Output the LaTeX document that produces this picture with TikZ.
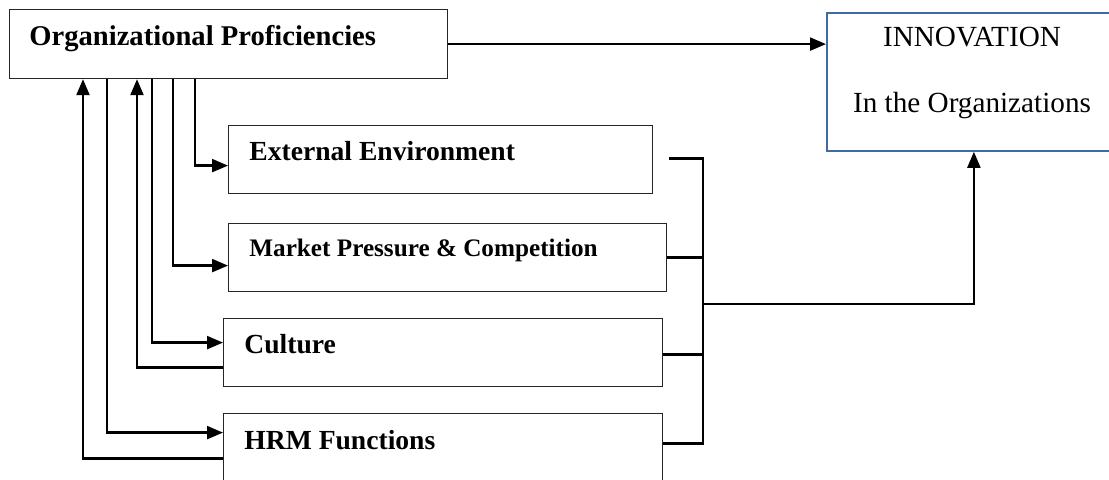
\documentclass[tikz,border=0pt]{standalone}
\usepackage{fontspec}
\setmainfont{Liberation Serif}
\usetikzlibrary{arrows.meta,calc}
\definecolor{innovblue}{RGB}{65,105,170}
\begin{document}
\begin{tikzpicture}[x=.5pt,y=-.5pt,
	box/.style={draw=black!85,line width=.6pt,inner sep=0pt,anchor=north west},
	link/.style={line width=1.1pt},
	tolink/.style={link,-{Triangle[length=8pt,width=6.5pt]}},
	lbl/.style={font=\bfseries\fontsize{13.8}{16}\selectfont,anchor=base west,inner sep=0pt}]
	\useasboundingbox (0,0) rectangle (1109,480);
	\node[box,minimum width=219pt,minimum height=34.5pt] (prof) at (9,9) {};
	\node[box,draw=innovblue,line width=.9pt,minimum width=147pt,minimum height=69pt] (innov) at (826,12) {};
	\node[box,minimum width=212pt,minimum height=34pt] (ext) at (228,125) {};
	\node[box,minimum width=219pt,minimum height=34pt] (mkt) at (228,223) {};
	\node[box,minimum width=219.5pt,minimum height=34pt] (cult) at (223,318) {};
	\node[box,minimum width=219.5pt,minimum height=53.5pt] (hrm) at (223,413) {};
	\node[lbl,font=\bfseries\fontsize{14.3}{16}\selectfont] (prof-t) at (29,46) {Organizational Proficiencies};
	\node[lbl] (ext-t) at (249,161) {External Environment};
	\node[lbl,font=\bfseries\fontsize{12.6}{14}\selectfont] (mkt-t) at (249,257) {Market Pressure \& Competition};
	\node[lbl] (cult-t) at (244,354) {Culture};
	\node[lbl] (hrm-t) at (244,450) {HRM Functions};
	\node[anchor=base,inner sep=0pt,font=\fontsize{14.6}{16}\selectfont] (innov-t1) at (972,47) {INNOVATION};
	\node[anchor=base,inner sep=0pt,font=\fontsize{14.6}{16}\selectfont] (innov-t2) at (972,113) {In the Organizations};
	\coordinate (bus) at (703,304);
	\draw[tolink] (prof.east) -- (prof.east -| innov.west);
	\draw[tolink] ($(hrm.west)+(0,-8.5)$) -| ($(prof.south west)+(74,0)$);
	\draw[tolink] ($(prof.south west)+(98,0)$) |- ($(hrm.west)+(0,-34.5)$);
	\draw[tolink] ($(cult.west)+(0,15)$) -| ($(prof.south west)+(128,0)$);
	\draw[tolink] ($(prof.south west)+(143,0)$) |- ($(cult.west)+(0,-10)$);
	\draw[tolink] ($(prof.south west)+(164,0)$) |- ($(mkt.west)+(0,8)$);
	\draw[tolink] ($(prof.south west)+(186,0)$) |- ($(ext.west)+(0,6)$);
	\draw[link] ($(ext.east)+(16,-1)$) -| (bus) |- ($(hrm.east)+(0,-23.5)$);
	\draw[link] (mkt.east) -- (mkt.east -| bus);
	\draw[link] ($(cult.east)+(0,2)$) -- ($(cult.east -| bus)+(0,2)$);
	\draw[tolink] (bus) -| (innov.south);
\end{tikzpicture}
\end{document}
